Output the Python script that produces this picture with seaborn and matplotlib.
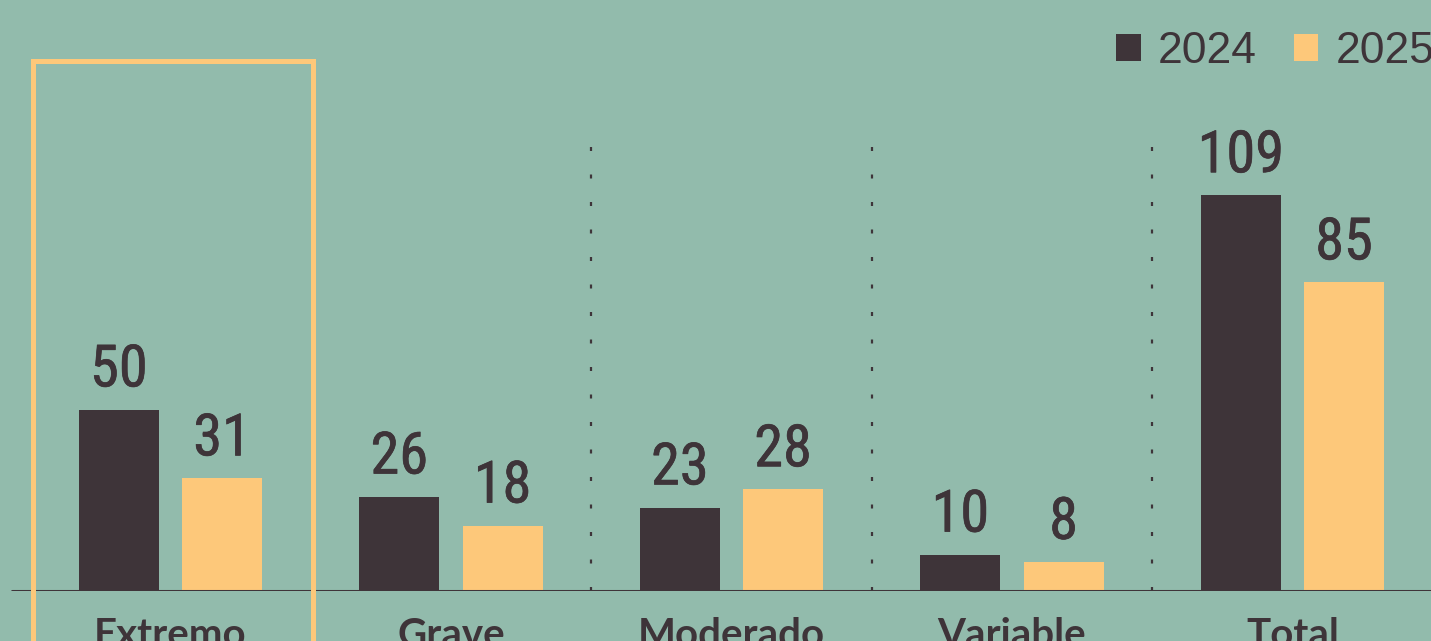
import pandas as pd
import seaborn as sns
from matplotlib import pyplot as plt
from matplotlib import patheffects as pe
from matplotlib.patches import Rectangle

# chart data
categories = ["Extremo", "Grave", "Moderado", "Variable", "Total"]
years = ["2024", "2025"]
values_2024 = [50, 26, 23, 10, 109]
values_2025 = [31, 18, 28, 8, 85]

BG = "#92bbac"
DARK = "#3e3439"
YELLOW = "#fdc87a"
NUM_FONT = ["Roboto Condensed", "Liberation Sans Narrow", "Roboto", "DejaVu Sans"]

df = pd.DataFrame({
    "categoria": categories * 2,
    "anio": [years[0]] * len(categories) + [years[1]] * len(categories),
    "valor": values_2024 + values_2025,
})

sns.set_style("white")
plt.rcParams["font.family"] = ["Roboto", "DejaVu Sans"]

fig = plt.figure(figsize=(14.31, 6.41), dpi=100, facecolor=BG)
ax = fig.add_axes([0, 50 / 641, 1, 591 / 641])
ax.set_facecolor(BG)

sns.barplot(data=df, x="categoria", y="valor", hue="anio", hue_order=years,
            palette={years[0]: DARK, years[1]: YELLOW}, width=0.736, gap=0.223,
            saturation=1, linewidth=0, ax=ax, legend=True)

ax.set_xlim(-170.5 / 280.5, (1431 - 170.5) / 280.5)
ax.set_ylim(0, 591 / 3.63)

# value labels
for cont in ax.containers:
    ax.bar_label(cont, padding=8, fontsize=42, color=DARK, family=NUM_FONT,
                 path_effects=[pe.withStroke(linewidth=0.5, foreground=DARK)])

# baseline and separators
ax.axhline(0, xmin=12 / 1431, color=DARK, lw=2.2, zorder=3)
ax.vlines([1.5, 2.5, 3.5], 0, 122.5, colors=DARK, lw=1.6,
          linestyles=[(0, (1.8, 10.575))], zorder=1)

# highlight box around first group
box = Rectangle((-0.4906, -40), 0.9991, 145.9 + 40, fill=False,
                edgecolor=YELLOW, lw=3.6, clip_on=False, zorder=4)
ax.add_patch(box)

for s in ax.spines.values():
    s.set_visible(False)
ax.set_xlabel("")
ax.set_ylabel("")
ax.set_yticks([])
ax.tick_params(axis="x", length=0, pad=19)
for lab in ax.get_xticklabels():
    lab.set_fontsize(29)
    lab.set_fontweight("bold")
    lab.set_family(["Lato", "DejaVu Sans"])
    lab.set_color(DARK)

handles, labels = ax.get_legend_handles_labels()
ax.legend(handles, labels, loc="upper left", bbox_to_anchor=(1116 / 1431, 1 - 31 / 641),
          bbox_transform=fig.transFigure, ncol=2, frameon=False, borderpad=0,
          borderaxespad=0, handlelength=0.56, handleheight=0.56, handletextpad=0.38,
          columnspacing=0.83, prop={"family": ["Liberation Sans", "DejaVu Sans"], "size": 32},
          labelcolor=DARK)

fig.savefig("out.png", dpi=100, facecolor=BG)
